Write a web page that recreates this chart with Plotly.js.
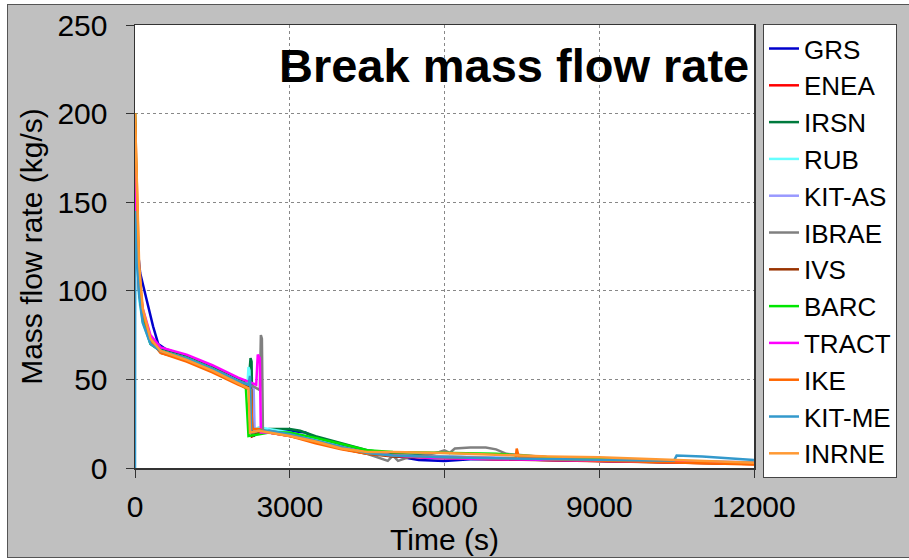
<!DOCTYPE html>
<html>
<head>
<meta charset="utf-8">
<script src="https://cdn.plot.ly/plotly-3.0.1.min.js"></script>
<style>
html,body{margin:0;padding:0;background:#ffffff;width:909px;height:560px;overflow:hidden;}
#frame{position:absolute;left:7px;top:4px;width:902px;height:552px;border-top:1px solid #555;border-left:1px solid #555;border-bottom:1px solid #555;background:#c0c0c0;}
#chart{position:absolute;left:0;top:0;width:901px;height:552px;}
</style>
</head>
<body>
<div id="frame"><div id="chart"></div></div>
<script>
// ---- Data ----
const seriesNames = ["GRS","ENEA","IRSN","RUB","KIT-AS","IBRAE","IVS","BARC","TRACT","IKE","KIT-ME","INRNE"];
const seriesColors = ["#0000cc","#ff0000","#007a3d","#66ffff","#9999ff","#808080","#993300","#00e600","#ff00ff","#ff6600","#3399cc","#ff9933"];

const grsT = [0,30,100,150,250,350,450,600,1000,1500,2000,2280,2300,2400,2600,3000,3300,3500,4000,4500,5000,5500,6000,6500,7000,8000,9000,10000,11000,12000];
const grsY = [150,130,110,104,92,80,70,67,63,57,50,46,18,21,21,21,20,17,13,9,7,4.5,4,5,5,4.5,4,3.5,3,2.5];

const eneaT = [0,30,80,150,300,500,1000,1500,2000,2250,2270,2400,2600,3000,3500,4000,4500,5000,6000,7000,8000,9000,10000,11000,12000];
const eneaY = [195,150,105,88,72,66,62,56,49,45,18,20,20,19,16,12,9,7,6,5,4.5,4,3.2,2.8,2.3];

const irsnT = [0,30,80,150,300,500,1000,1500,2000,2200,2240,2260,2280,2450,2600,3000,3200,3500,4000,4500,5000,6000,7000,8000,9000,10000,11000,12000];
const irsnY = [190,140,100,85,73,67,63,57,50,47,62,60,18,21,22,22,21,18,14,10,8,6.5,5.5,5,4.5,3.8,3.2,2.8];

const rubT = [0,30,80,150,300,500,1000,1500,2000,2180,2200,2220,2240,2400,2600,3000,3500,4000,4500,5000,6000,7000,8000,9000,10000,11000,12000];
const rubY = [150,125,95,82,70,66,62,56,49,47,57,55,20,23,22,20,16,12,8.5,7,6,5.5,5,4.5,4,3.5,3];

const kitasT = [0,30,80,150,300,500,1000,1500,2000,2300,2320,2500,3000,3500,4000,4500,5000,6000,7000,8000,9000,10000,11000,12000];
const kitasY = [160,130,100,85,72,66,62,56,49,45,20,20,19,15,11.5,8.5,7,6.5,6,5.5,5,4.5,3.8,3.2];

const ibraeT = [0,30,80,150,300,500,1000,1500,2000,2300,2420,2440,2460,2480,2600,3000,3500,4000,4500,4700,4900,5000,5100,5300,5600,5900,6000,6100,6200,6500,6800,7000,7200,8000,9000,10000,11000,12000];
const ibraeY = [185,145,100,83,71,66,62,56,49,46,44,75,73,20,21,19,15,11,8,6,4,7,4,6,7,9,10,8.5,11,11.5,11.5,10.5,8,6,5,4,3.5,3];

const ivsT = [0,30,80,150,300,500,1000,1500,2000,2250,2270,2400,2600,3000,3500,4000,4500,5000,6000,7000,8000,9000,10000,11000,12000];
const ivsY = [200,150,100,85,72,65,61,55,48,45,18,20,20,18,15,11,8,6.5,5.5,5,4.2,3.8,3.2,2.6,2.2];

const barcT = [0,30,80,150,300,500,1000,1500,2000,2150,2200,2400,2600,3000,3500,4000,4500,5000,6000,7000,7500,8000,9000,10000,11000,12000];
const barcY = [200,155,105,84,70,66,62,56,48,45,18,19,20,20,17,13.5,10,9,8.5,8,7,6,5,4,3.2,2.5];

const tractT = [0,30,80,150,300,500,1000,1500,2000,2350,2380,2420,2440,2600,3000,3500,4000,4500,5000,5500,6000,7000,8000,9000,10000,11000,12000];
const tractY = [175,140,105,90,75,68,64,58,51,47,64,62,20,20,18,15,11.5,8.5,7,6,5.5,5,4.5,4,3.5,3,2.5];

const ikeT = [0,30,80,150,300,500,1000,1500,2000,2250,2270,2400,2600,3000,3500,4000,4500,5000,6000,7000,7380,7400,7440,8000,9000,10000,11000,12000];
const ikeY = [200,160,110,88,72,65,60,54,47,44,22,22,20,18,14,10.5,8,7,6,5.5,5.5,11,6,5,4.2,3.5,2.8,2];

const kitmeT = [0,5,30,80,150,300,500,1000,1500,2000,2200,2230,2250,2400,2600,3000,3500,4000,4500,5000,6000,7000,8000,9000,10000,10450,10500,11000,12000];
const kitmeY = [0,145,125,98,82,70,66,62,56,49,47,52,20,21,21,19,15.5,12,8.5,7,6,5.5,5,4.5,4.2,4.2,7,6.5,4.5];

const inrneT = [0,30,80,150,300,500,1000,1500,2000,2200,2230,2400,2600,3000,3500,4000,4500,5000,6000,7000,8000,9000,10000,11000,12000];
const inrneY = [200,165,115,90,73,66,61,55,48,45,20,21,20,18,15,11,9,9,8.5,7.5,6.5,6,5,4,3];

const xTicks = [0,3000,6000,9000,12000];
const yTicks = [0,50,100,150,200,250];

// ---- Build traces ----
const allT = [grsT,eneaT,irsnT,rubT,kitasT,ibraeT,ivsT,barcT,tractT,ikeT,kitmeT,inrneT];
const allY = [grsY,eneaY,irsnY,rubY,kitasY,ibraeY,ivsY,barcY,tractY,ikeY,kitmeY,inrneY];
const traces = seriesNames.map((n,i)=>({
  type:'scatter', mode:'lines', name:n, x:allT[i], y:allY[i],
  line:{color:seriesColors[i], width:2.5}
}));

const FONT = 'Liberation Sans, Arial, sans-serif';
const layout = {
  width:901, height:552,
  margin:{l:127, r:152, t:20, b:89},
  paper_bgcolor:'#c0c0c0', plot_bgcolor:'#ffffff',
  font:{family:FONT, size:30, color:'#000'},
  showlegend:true,
  legend:{x:1.0145, xanchor:'left', y:1.002, yanchor:'top', bgcolor:'#ffffff',
    bordercolor:'#444', borderwidth:1, font:{family:FONT, size:26, color:'#000'},
    itemwidth:30, maxheight:500},
  xaxis:{range:[0,12000], tickvals:xTicks, ticktext:xTicks.map(String),
    showline:true, linecolor:'#333', linewidth:1.5, mirror:true,
    ticks:'outside', ticklen:8, tickcolor:'#333', tickwidth:1,
    showgrid:true, gridcolor:'#888', griddash:'dot', gridwidth:1, zeroline:false,
    tickfont:{family:FONT, size:30, color:'#000'}, ticklabelstandoff:3,
    title:{text:'Time (s)', font:{family:FONT, size:30, color:'#000'}, standoff:4}},
  yaxis:{range:[0,250], tickvals:yTicks, ticktext:yTicks.map(String),
    showline:true, linecolor:'#333', linewidth:1.5, mirror:true,
    ticks:'outside', ticklen:8, tickcolor:'#333', tickwidth:1,
    showgrid:true, gridcolor:'#888', griddash:'dot', gridwidth:1, zeroline:false,
    tickfont:{family:FONT, size:30, color:'#000'}, ticklabelstandoff:12,
    title:{text:'Mass flow rate (kg/s)', font:{family:FONT, size:30, color:'#000'}, standoff:6}},
  annotations:[{text:'<b>Break mass flow rate</b>', xref:'paper', yref:'paper',
    x:0.612, y:0.9075, xanchor:'center', yanchor:'middle', showarrow:false,
    font:{family:FONT, size:47, color:'#000'}}]
};
Plotly.newPlot('chart', traces, layout, {displayModeBar:false, staticPlot:true});
</script>
</body>
</html>
